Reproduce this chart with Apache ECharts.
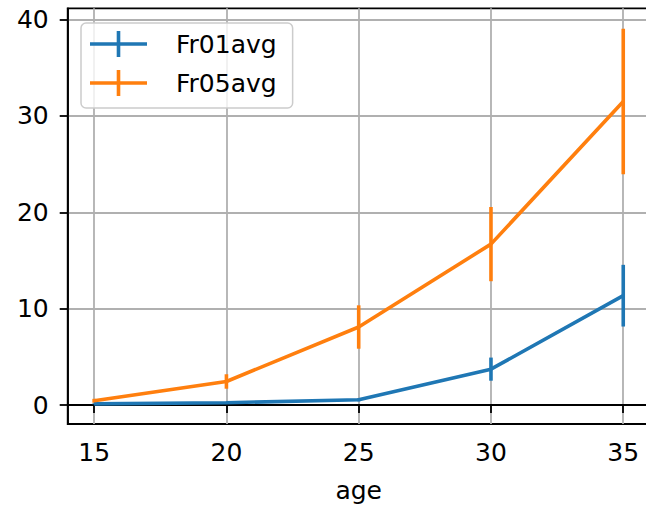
<!DOCTYPE html>
<html>
<head>
<meta charset="utf-8">
<script src="https://cdn.jsdelivr.net/npm/echarts@6/dist/echarts.min.js"></script>
<style>
  html, body { margin: 0; padding: 0; background: #fff; }
  #chart { width: 646px; height: 507px; }
</style>
</head>
<body>
<div id="chart"></div>
<script>
// ages on the x axis
const ages = [15, 20, 25, 30, 35];
// mean values
const fr01avg = [0.13, 0.25, 0.55, 3.73, 11.35];
const fr05avg = [0.45, 2.45, 8.1, 16.7, 31.5];
// error (half length of the bar)
const fr01err = [0.05, 0.08, 0.15, 1.2, 3.2];
const fr05err = [0.2, 0.75, 2.25, 3.85, 7.55];
const xTicks = [15, 20, 25, 30, 35];
const yTicks = [0, 10, 20, 30, 40];

const blue = '#1f77b4';
const orange = '#ff7f0e';
const font = 'DejaVu Sans';

function pairs(vals) {
  return ages.map((a, i) => [a, vals[i]]);
}
function errData(vals, errs) {
  return ages.map((a, i) => [a, vals[i] - errs[i], vals[i] + errs[i]]);
}
function errSeries(name, vals, errs, color) {
  return {
    name: name,
    type: 'custom',
    data: errData(vals, errs),
    renderItem: function (params, api) {
      const lo = api.coord([api.value(0), api.value(1)]);
      const hi = api.coord([api.value(0), api.value(2)]);
      return {
        type: 'line',
        shape: { x1: lo[0], y1: lo[1], x2: hi[0], y2: hi[1] },
        style: { stroke: color, lineWidth: 3.6 }
      };
    },
    z: 3
  };
}
function lineSeries(name, vals, color) {
  return {
    name: name,
    type: 'line',
    data: pairs(vals),
    showSymbol: false,
    symbol: 'none',
    color: color,
    lineStyle: { color: color, width: 3.6 },
    itemStyle: { color: color },
    z: 3
  };
}

const chart = echarts.init(document.getElementById('chart'), null, { renderer: 'svg' });
chart.setOption({
  animation: false,
  grid: {
    left: 67.7, top: 8.3, width: 582, height: 415.7,
    show: true, borderColor: '#000', borderWidth: 1.8,
    backgroundColor: 'transparent',
    outerBoundsMode: 'none'
  },
  legend: {
    orient: 'vertical',
    left: 81, top: 23,
    data: ['Fr01avg', 'Fr05avg'],
    icon: 'path://M0,11.2h57v3.6h-57z M26.7,0h3.6v26h-3.6z',
    itemWidth: 57, itemHeight: 26, itemGap: 13,
    padding: [8, 16, 12, 9],
    borderColor: '#cccccc', borderWidth: 1.5, borderRadius: 5,
    backgroundColor: 'rgba(255,255,255,0.8)',
    itemStyle: { borderWidth: 0 },
    textStyle: { fontFamily: font, fontSize: 25, color: '#000', padding: [0, 0, 0, 24] }
  },
  xAxis: {
    type: 'value',
    min: 14, max: 36,
    name: 'age',
    nameLocation: 'middle',
    nameGap: 54,
    nameTextStyle: { fontFamily: font, fontSize: 25, color: '#000' },
    axisLine: { show: true, lineStyle: { color: '#000', width: 1.8 } },
    axisTick: { show: true, length: 8, customValues: xTicks, lineStyle: { color: '#000', width: 1.8 } },
    axisLabel: { customValues: xTicks, margin: 16, fontFamily: font, fontSize: 25, color: '#000' },
    splitLine: { show: true, lineStyle: { color: '#b0b0b0', width: 1.8 } }
  },
  yAxis: {
    type: 'value',
    min: -1.96, max: 41.16,
    axisLine: { show: true, lineStyle: { color: '#000', width: 1.8 } },
    axisTick: { show: true, length: 8, customValues: yTicks, lineStyle: { color: '#000', width: 1.8 } },
    axisLabel: { customValues: yTicks, margin: 19, fontFamily: font, fontSize: 25, color: '#000' },
    splitLine: { show: true, lineStyle: { color: '#b0b0b0', width: 1.8 } }
  },
  series: [
    lineSeries('Fr01avg', fr01avg, blue),
    errSeries('Fr01err', fr01avg, fr01err, blue),
    lineSeries('Fr05avg', fr05avg, orange),
    errSeries('Fr05err', fr05avg, fr05err, orange)
  ]
});
</script>
</body>
</html>
